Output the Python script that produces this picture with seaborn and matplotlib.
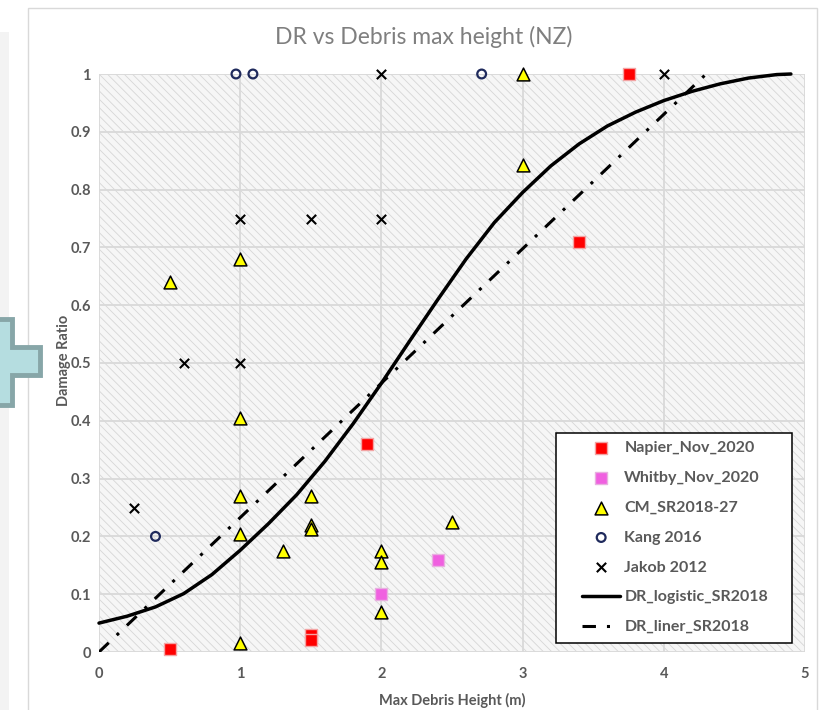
import matplotlib
matplotlib.use("Agg")
import matplotlib.pyplot as plt
import seaborn as sns
from matplotlib.patches import Rectangle, Polygon

# ---------------- data ----------------
napier_x = [0.5, 1.5, 1.5, 1.9, 3.4, 3.75]
napier_y = [0.005, 0.03, 0.02, 0.36, 0.71, 1.0]

whitby_x = [2.0, 2.4]
whitby_y = [0.10, 0.16]

cm_x = [0.5, 1.0, 1.0, 1.0, 1.0, 1.0, 1.3, 1.5, 1.5, 1.5, 2.0, 2.0, 2.0, 2.5, 3.0, 3.0]
cm_y = [0.64, 0.68, 0.405, 0.27, 0.205, 0.015, 0.175, 0.27, 0.22, 0.213,
        0.175, 0.155, 0.07, 0.225, 1.0, 0.843]

kang_x = [0.4, 0.97, 1.09, 2.71]
kang_y = [0.2, 1.0, 1.0, 1.0]

jakob_x = [0.25, 0.6, 1.0, 1.0, 1.5, 2.0, 2.0, 4.0]
jakob_y = [0.25, 0.5, 0.5, 0.75, 0.75, 0.75, 1.0, 1.0]

logistic_x = [0, 0.2, 0.4, 0.6, 0.8, 1.0, 1.2, 1.4, 1.6, 1.8, 2.0, 2.2, 2.4,
              2.6, 2.8, 3.0, 3.2, 3.4, 3.6, 3.8, 4.0, 4.2, 4.4, 4.6, 4.8, 4.9]
logistic_y = [0.05, 0.062, 0.078, 0.101, 0.134, 0.176, 0.222, 0.272, 0.33, 0.395,
              0.465, 0.538, 0.61, 0.68, 0.743, 0.795, 0.841, 0.879, 0.91, 0.934,
              0.954, 0.97, 0.983, 0.993, 0.999, 1.0]

liner_x = [0, 4.3]
liner_y = [0, 1.0]

x_ticks = [0, 1, 2, 3, 4, 5]
x_tick_labels = ["0", "1", "2", "3", "4", "5"]
y_ticks = [0, 0.1, 0.2, 0.3, 0.4, 0.5, 0.6, 0.7, 0.8, 0.9, 1.0]
y_tick_labels = ["0", "0.1", "0.2", "0.3", "0.4", "0.5", "0.6", "0.7", "0.8", "0.9", "1"]

title = "DR vs Debris max height (NZ)"
x_label = "Max Debris Height (m)"
y_label = "Damage Ratio"
series_labels = ["Napier_Nov_2020", "Whitby_Nov_2020", "CM_SR2018-27", "Kang 2016",
                 "Jakob 2012", "DR_logistic_SR2018", "DR_liner_SR2018"]

# ---------------- style ----------------
sns.set_theme(style="white")
plt.rcParams["font.family"] = ["Lato", "DejaVu Sans"]
plt.rcParams["hatch.linewidth"] = 0.6

W, H = 821, 710
def fx(px):
    return px / W
def fy(py):
    return 1 - py / H

TXT = "#595959"

fig = plt.figure(figsize=(W / 100, H / 100), dpi=100)
fig.patch.set_facecolor("white")

# screenshot surroundings
fig.add_artist(Rectangle((0, 0), fx(9), fy(32), transform=fig.transFigure,
                         facecolor="#f3f3f3", edgecolor="none", zorder=0))
fig.add_artist(Rectangle((fx(28), fy(712)), fx(817) - fx(28), fy(8) - fy(712),
                         transform=fig.transFigure, facecolor="none",
                         edgecolor="#d9d9d9", lw=1.0, zorder=0))
plus_px = [(-10, 319), (12, 319), (12, 347), (40, 347), (40, 375), (12, 375),
           (12, 405), (-10, 405)]
fig.add_artist(Polygon([(fx(a), fy(b)) for a, b in plus_px], closed=True,
                       transform=fig.transFigure, facecolor="#b5dde0",
                       edgecolor="#87a6a8", lw=3.5, joinstyle="miter", zorder=0))

ax = fig.add_axes([fx(99), fy(652), fx(805) - fx(99), fy(74) - fy(652)])
ax.set_facecolor("#f6f6f6")
ax.add_patch(Rectangle((0, 0), 1, 1, transform=ax.transAxes, facecolor="#f6f6f6",
                       edgecolor="#d6d6d6", hatch="\\\\\\\\", lw=0, zorder=0))

# ---------------- marks ----------------
sns.scatterplot(x=napier_x, y=napier_y, ax=ax, marker="s", s=75, color="#ff0000",
                edgecolor="#f3a3a3", linewidth=1.0, clip_on=False, zorder=4)
sns.scatterplot(x=whitby_x, y=whitby_y, ax=ax, marker="s", s=75, color="#f060e0",
                edgecolor="#e8b0e0", linewidth=1.0, clip_on=False, zorder=4)
sns.scatterplot(x=cm_x, y=cm_y, ax=ax, marker="^", s=85, color="#ffff00",
                edgecolor="black", linewidth=1.1, clip_on=False, zorder=4)
sns.scatterplot(x=kang_x, y=kang_y, ax=ax, marker="o", s=40, color="#1f2a5c",
                facecolor="none", edgecolor="#1f2a5c", linewidth=1.6,
                clip_on=False, zorder=4)
sns.scatterplot(x=jakob_x, y=jakob_y, ax=ax, marker="x", s=45, color="black",
                linewidth=1.5, clip_on=False, zorder=5)

sns.lineplot(x=logistic_x, y=logistic_y, ax=ax, color="black", lw=2.5,
             estimator=None, sort=False, zorder=3, clip_on=False,
             solid_joinstyle="round", solid_capstyle="round")
sns.lineplot(x=liner_x, y=liner_y, ax=ax, color="black", lw=2.2,
             estimator=None, sort=False, zorder=3,
             linestyle=(0, (4.4, 3.6, 1.0, 3.6)))

colls = ax.collections
point_handles = [c for c in colls if c.get_offsets().shape[0] > 0][-5:]
line_handles = ax.lines[-2:]

# ---------------- axes ----------------
ax.set_xlim(0, 5)
ax.set_ylim(0, 1)
ax.set_xticks(x_ticks)
ax.set_xticklabels(x_tick_labels)
ax.set_yticks(y_ticks)
ax.set_yticklabels(y_tick_labels)
ax.grid(True, color="#d9d9d9", lw=1.3)
ax.set_axisbelow(True)
for sp in ax.spines.values():
    sp.set_visible(False)
ax.tick_params(axis="both", length=0, labelcolor=TXT, labelsize=10.5)
ax.tick_params(axis="x", pad=11)
ax.tick_params(axis="y", pad=6)
for t in ax.get_xticklabels() + ax.get_yticklabels():
    t.set_fontweight("bold")

ax.set_xlabel(x_label, fontsize=10.5, fontweight="bold", color=TXT)
ax.set_ylabel(y_label, fontsize=10.5, fontweight="bold", color=TXT)
ax.xaxis.set_label_coords(0.5, -0.071)
ax.yaxis.set_label_coords(-0.039, 0.505)

fig.text(fx(424), fy(37), title, ha="center", va="center", fontsize=16.5,
         color="#7f7f7f")

# ---------------- legend ----------------
ax.add_patch(Rectangle((fx(556), fy(643)), fx(792) - fx(556), fy(433) - fy(643),
                       transform=fig.transFigure, facecolor="white",
                       edgecolor="black", lw=1.1, zorder=6, clip_on=False))
leg = ax.legend(point_handles + line_handles, series_labels, loc="upper left",
                bbox_to_anchor=(fx(582), fy(441)), bbox_transform=fig.transFigure,
                frameon=False, borderpad=0, borderaxespad=0, handlelength=2.4,
                handletextpad=0.25, labelspacing=0.98, scatterpoints=1,
                prop=dict(family="Lato", weight="bold", size=11.5))
leg.set_zorder(7)
for t in leg.get_texts():
    t.set_color(TXT)

fig.savefig("out.png", dpi=100)
